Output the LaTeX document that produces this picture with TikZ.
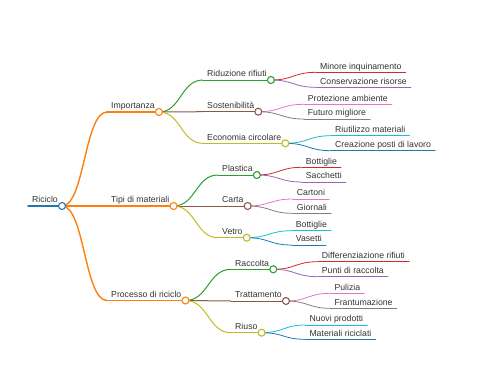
\documentclass[tikz,border=0pt]{standalone}
\usepackage{fontspec}
\setmainfont{Liberation Sans}

\definecolor{cblue}{HTML}{1F77B4}
\definecolor{corange}{HTML}{FF7F0E}
\definecolor{cgreen}{HTML}{2CA02C}
\definecolor{cred}{HTML}{D62728}
\definecolor{cpurple}{HTML}{9467BD}
\definecolor{cbrown}{HTML}{8C564B}
\definecolor{cpink}{HTML}{E377C2}
\definecolor{cgray}{HTML}{7F7F7F}
\definecolor{colive}{HTML}{BCBD22}
\definecolor{ccyan}{HTML}{17BECF}
\definecolor{ctext}{HTML}{333333}

\tikzset{
  topic/.style={anchor=south west, inner xsep=4pt, inner ysep=3pt,
    text depth=0pt, text=ctext, font=\fontsize{8.7}{10}\selectfont},
  uline/.style={line width=#1, line cap=round},
  link/.style={line width=#1},
  knob/.style={circle, draw=#1, fill=white, line width=1.1pt,
    inner sep=0pt, minimum size=7pt}
}

% horizontal s-curve from a parent knob to a child underline
\newcommand{\branch}[4]{%
  \draw[link=#3, #4] (#1.south east) .. controls
    ($(#1.south east)!0.5!(#1.south east -| #2.south west)$) and
    ($(#2.south west)!0.5!(#2.south west -| #1.south east)$) ..
    (#2.south west);}
\newcommand{\under}[3]{%
  \draw[uline=#2, #3] (#1.south west) -- (#1.south east);}

\usetikzlibrary{calc}

\begin{document}
\begin{tikzpicture}[x=1pt,y=-1pt]
    \useasboundingbox (0,0) rectangle (480,384);

    % Root and first level
    \node[topic] (ric) at (28,206) {Riciclo};
    \node[topic] (imp) at (107,112) {Importanza};
    \node[topic] (tip) at (107,206) {Tipi di materiali};
    \node[topic] (pro) at (107,300.5) {Processo di riciclo};

    % Importanza
    \node[topic] (rid) at (203,80) {Riduzione rifiuti};
    \node[topic] (sos) at (203,111.7) {Sostenibilità};
    \node[topic] (eco) at (203,143.3) {Economia circolare};
    \node[topic] (min) at (316,72.3) {Minore inquinamento};
    \node[topic] (con) at (316,87.3) {Conservazione risorse};
    \node[topic] (prt) at (303.7,104.3) {Protezione ambiente};
    \node[topic] (fut) at (303.7,119) {Futuro migliore};
    \node[topic] (riu) at (331,135.7) {Riutilizzo materiali};
    \node[topic] (cre) at (331,150.7) {Creazione posti di lavoro};

    % Tipi di materiali
    \node[topic] (pla) at (218,175) {Plastica};
    \node[topic] (car) at (218,206) {Carta};
    \node[topic] (vet) at (218,237.7) {Vetro};
    \node[topic] (bot) at (301.7,167.3) {Bottiglie};
    \node[topic] (sac) at (301.7,182) {Sacchetti};
    \node[topic] (cat) at (292.7,199) {Cartoni};
    \node[topic] (gio) at (292.7,213.3) {Giornali};
    \node[topic] (bov) at (291.7,230.7) {Bottiglie};
    \node[topic] (vas) at (291.7,245) {Vasetti};

    % Processo di riciclo
    \node[topic] (rac) at (231,269.3) {Raccolta};
    \node[topic] (tra) at (231,301) {Trattamento};
    \node[topic] (rus) at (231,332.7) {Riuso};
    \node[topic] (dif) at (317.7,261.7) {Differenziazione rifiuti};
    \node[topic] (pun) at (317.7,276.7) {Punti di raccolta};
    \node[topic] (pul) at (330.3,293.3) {Pulizia};
    \node[topic] (fra) at (330.3,308.3) {Frantumazione};
    \node[topic] (nuo) at (305.3,325) {Nuovi prodotti};
    \node[topic] (mat) at (305.3,339.3) {Materiali riciclati};

    % Underlines
    \under{ric}{1.8pt}{cblue}
    \foreach \n in {imp,tip,pro} {\under{\n}{1.4pt}{corange}}
    \foreach \n/\c in {rid/cgreen,sos/cbrown,eco/colive,pla/cgreen,car/cbrown,
        vet/colive,rac/cgreen,tra/cbrown,rus/colive} {\under{\n}{1pt}{\c}}
    \foreach \n/\c in {min/cred,con/cpurple,prt/cpink,fut/cgray,riu/ccyan,
        cre/cblue,bot/cred,sac/cpurple,cat/cpink,gio/cgray,bov/ccyan,vas/cblue,
        dif/cred,pun/cpurple,pul/cpink,fra/cgray,nuo/ccyan,mat/cblue}
        {\under{\n}{0.8pt}{\c}}

    % Links
    \foreach \n in {imp,tip,pro} {\branch{ric}{\n}{1.4pt}{corange}}
    \foreach \p/\n/\c in {imp/rid/cgreen,imp/sos/cbrown,imp/eco/colive,
        tip/pla/cgreen,tip/car/cbrown,tip/vet/colive,
        pro/rac/cgreen,pro/tra/cbrown,pro/rus/colive} {\branch{\p}{\n}{1pt}{\c}}
    \foreach \p/\n/\c in {rid/min/cred,rid/con/cpurple,sos/prt/cpink,sos/fut/cgray,
        eco/riu/ccyan,eco/cre/cblue,pla/bot/cred,pla/sac/cpurple,car/cat/cpink,
        car/gio/cgray,vet/bov/ccyan,vet/vas/cblue,rac/dif/cred,rac/pun/cpurple,
        tra/pul/cpink,tra/fra/cgray,rus/nuo/ccyan,rus/mat/cblue}
        {\branch{\p}{\n}{0.8pt}{\c}}

    % Knobs
    \node[knob=cblue] at (ric.south east) {};
    \foreach \n in {imp,tip,pro} {\node[knob=corange] at (\n.south east) {};}
    \foreach \n/\c in {rid/cgreen,sos/cbrown,eco/colive,pla/cgreen,car/cbrown,
        vet/colive,rac/cgreen,tra/cbrown,rus/colive}
        {\node[knob=\c] at (\n.south east) {};}
\end{tikzpicture}
\end{document}
